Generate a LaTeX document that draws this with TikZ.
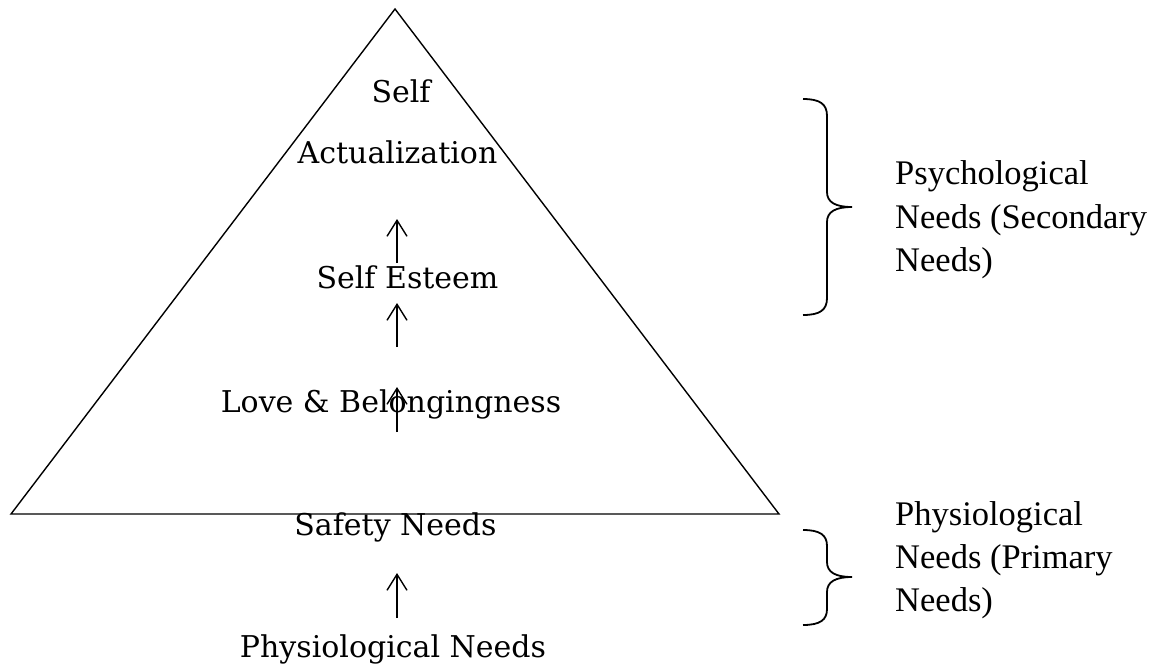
\documentclass[tikz,border=0pt]{standalone}
\usepackage{fontspec}
\usetikzlibrary{arrows.meta}
\newfontfamily\pyrfont{DejaVu Serif}
\newfontfamily\tmsfont{Liberation Serif}
\begin{document}
\begin{tikzpicture}[x=1pt,y=-1pt,
  pyrtext/.style={inner sep=0pt,anchor=base,font=\pyrfont\fontsize{30}{36}\selectfont},
  sidetext/.style={inner sep=0pt,anchor=base west,font=\tmsfont\fontsize{34.5}{43}\selectfont},
  uparrow/.style={line width=1.4pt,-{Straight Barb[length=16pt,width=20pt,line width=1.4pt]}},
  brace/.style={line width=1.8pt},
  pyramid/.style={line width=1.4pt,line join=miter}]
\useasboundingbox (0,0) rectangle (1153,665);
% pyramid
\coordinate (apex) at (395,9);
\coordinate (bl) at (11,514);
\coordinate (br) at (779,514);
\draw[pyramid] (apex) -- (br) -- (bl) -- cycle;
% texts
\node[pyrtext] (self) at (401,102) {Self};
\node[pyrtext] (actual) at (397.5,163) {Actualization};
\node[pyrtext] (esteem) at (407.5,288) {Self Esteem};
\node[pyrtext] (love) at (391,412) {Love \& Belongingness};
\node[pyrtext] (safety) at (395.5,535) {Safety Needs};
\node[pyrtext] (physio) at (393,657) {Physiological Needs};
% arrows
\coordinate (a1s) at (397,263); \coordinate (a1e) at (397,219);
\coordinate (a2s) at (397,347); \coordinate (a2e) at (397,303);
\coordinate (a3s) at (397,432); \coordinate (a3e) at (397,387);
\coordinate (a4s) at (397,618); \coordinate (a4e) at (397,573);
\draw[uparrow] (a1s) -- (a1e);
\draw[uparrow] (a2s) -- (a2e);
\draw[uparrow] (a3s) -- (a3e);
\draw[uparrow] (a4s) -- (a4e);
% braces
\draw[brace] (803,99) .. controls (820,99) and (827,104) .. (827,116) -- (827,192)
  .. controls (827,202) and (835,207) .. (852,207)
  .. controls (835,207) and (827,212) .. (827,222) -- (827,298)
  .. controls (827,310) and (820,315) .. (803,315);
\draw[brace] (803,530) .. controls (820,530) and (827,535) .. (827,546) -- (827,562)
  .. controls (827,572) and (835,577) .. (852,577)
  .. controls (835,577) and (827,582) .. (827,592) -- (827,609)
  .. controls (827,620) and (820,625) .. (803,625);
% side labels
\node[sidetext] (psy1) at (895,184) {Psychological};
\node[sidetext] (psy2) at (895,228) {Needs (Secondary};
\node[sidetext] (psy3) at (895,271) {Needs)};
\node[sidetext] (phy1) at (895,525) {Physiological};
\node[sidetext] (phy2) at (895,568) {Needs (Primary};
\node[sidetext] (phy3) at (895,611) {Needs)};
\end{tikzpicture}
\end{document}
